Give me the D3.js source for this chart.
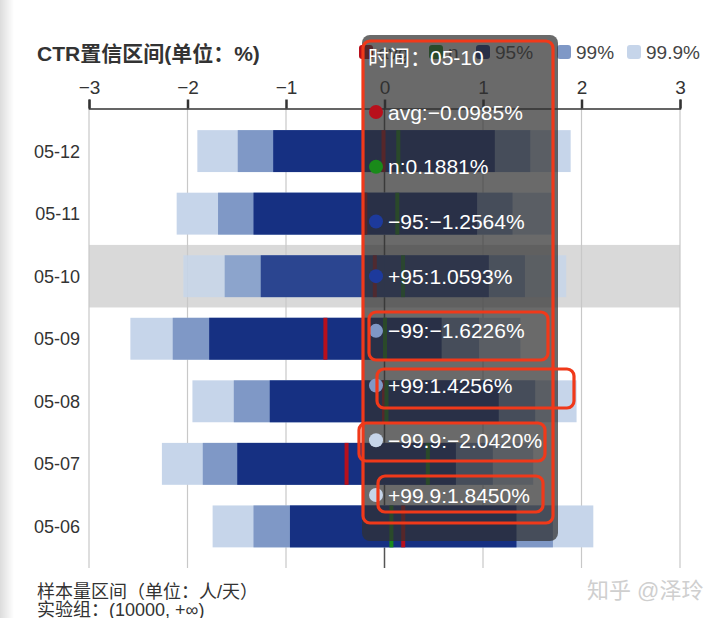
<!DOCTYPE html>
<html><head><meta charset="utf-8">
<script src="https://cdn.jsdelivr.net/npm/d3@7"></script>
<style>
html,body{margin:0;padding:0;background:#fff;}
svg{display:block;font-family:"Liberation Sans","Noto Sans CJK SC",sans-serif;}
</style></head>
<body><svg id="c" width="720" height="618"></svg>
<script>
const dates = ["05-12","05-11","05-10","05-09","05-08","05-07","05-06"];
const avg   = [-0.01,-0.195,-0.0985,-0.60,-0.005,-0.385,0.19];
const nVal  = [0.14,0.13,0.1881,0.005,0.02,0.44,0.07];
const lo95  = [-1.13,-1.33,-1.2564,-1.78,-1.165,-1.495,-0.96];
const hi95  = [1.12,0.94,1.0593,0.58,1.16,0.725,1.34];
const lo99  = [-1.49,-1.69,-1.6226,-2.15,-1.53,-1.845,-1.33];
const hi99  = [1.48,1.30,1.4256,0.96,1.53,1.10,1.71];
const lo999 = [-1.90,-2.11,-2.0420,-2.58,-1.95,-2.26,-1.745];
const hi999 = [1.89,1.72,1.8450,1.38,1.95,1.51,2.12];
const xTicks = [-3,-2,-1,0,1,2,3];
const legendLabels = ["avg","n","95%","99%","99.9%"];
const hoverDate = "05-10";

const C = {avg:"#b8101c", n:"#1a8a1a", c95:"#163082", c99:"#7f98c6", c999:"#c6d5ea"};
const legendColors = [C.avg, C.n, C.c95, C.c99, C.c999];

const svg = d3.select("#c");
const defs = svg.append("defs");
const g0 = defs.append("linearGradient").attr("id","edge");
g0.append("stop").attr("offset","0").attr("stop-color","#dcdcdc");
g0.append("stop").attr("offset","1").attr("stop-color","#ffffff");
svg.append("rect").attr("x",0).attr("y",0).attr("width",14).attr("height",618).attr("fill","url(#edge)");

const x = d3.scaleLinear().domain([-3,3]).range([89,680]);
const y = d3.scaleBand().domain(dates).range([109.5,568]).padding(0.33);

const hi = dates.indexOf(hoverDate);
svg.append("rect").attr("x",x(-3)).attr("width",x(3)-x(-3))
  .attr("y",y(hoverDate)-y.step()*y.padding()/2).attr("height",y.step())
  .attr("fill","#d9d9d9");

svg.append("g").selectAll("line").data(xTicks).join("line")
  .attr("x1",d=>x(d)).attr("x2",d=>x(d)).attr("y1",108).attr("y2",568)
  .attr("stroke",d=>d===0?"#555":"#c8c8c8").attr("stroke-width",d=>d===0?1.5:1.2);

const ax = svg.append("g").attr("transform","translate(0,108.5)")
  .call(d3.axisTop(x).tickValues(xTicks).tickFormat(d3.format("d")).tickSize(9).tickPadding(6));
ax.select(".domain").attr("stroke","#333").attr("stroke-width",1.5);
ax.selectAll(".tick line").attr("stroke","#333").attr("stroke-width",2.5);
ax.selectAll("text").attr("font-size",19).attr("fill","#333")
  .attr("font-family","Liberation Sans, sans-serif");

const rows = dates.map((d,i)=>({d,i}));
const layers = [[lo999,hi999,C.c999],[lo99,hi99,C.c99],[lo95,hi95,C.c95]];
const bg = svg.append("g");
layers.forEach(([lo,hiA,col])=>{
  bg.selectAll(null).data(rows).join("rect")
    .attr("x",r=>x(lo[r.i])).attr("width",r=>x(hiA[r.i])-x(lo[r.i]))
    .attr("y",r=>y(r.d)).attr("height",y.bandwidth())
    .attr("fill",col).attr("opacity",r=>r.i===hi?0.82:1);
});
bg.selectAll(null).data(rows).join("rect")
  .attr("x",r=>x(avg[r.i])-2).attr("width",4)
  .attr("y",r=>y(r.d)).attr("height",y.bandwidth()).attr("fill",C.avg)
  .attr("opacity",r=>r.i===hi?0.82:1);
bg.selectAll(null).data(rows).join("rect")
  .attr("x",r=>x(nVal[r.i])-2).attr("width",4)
  .attr("y",r=>y(r.d)).attr("height",y.bandwidth()).attr("fill",C.n)
  .attr("opacity",r=>r.i===hi?0.82:1);

svg.append("g").selectAll("text").data(dates).join("text")
  .attr("x",80).attr("y",d=>y(d)+y.bandwidth()/2).attr("dy","0.36em")
  .attr("text-anchor","end").attr("font-size",18).attr("fill","#333").text(d=>d);

svg.append("text").attr("x",37).attr("y",61).attr("font-size",21).attr("font-weight","bold")
  .attr("fill","#333").text("CTR置信区间(单位：%)");

const lg = svg.append("g");
const legendX = [359, 429, 476, 557, 627];
legendLabels.forEach((t,i)=>{
  lg.append("rect").attr("x",legendX[i]).attr("y",45).attr("width",14).attr("height",14).attr("rx",3)
    .attr("fill",legendColors[i]);
  lg.append("text").attr("x",legendX[i]+19).attr("y",59).attr("font-size",19).attr("fill","#444").text(t);
});

svg.append("text").attr("x",37).attr("y",598).attr("font-size",18).attr("fill","#333")
  .text("样本量区间（单位：人/天）");
svg.append("text").attr("x",37).attr("y",616).attr("font-size",18).attr("fill","#333")
  .text("实验组：(10000, +∞)");
svg.append("text").attr("x",587).attr("y",598).attr("font-size",22).attr("fill","#cfcfcf")
  .text("知乎 @泽玲");

const tt = svg.append("g");
tt.append("rect").attr("x",362).attr("y",35).attr("width",196).attr("height",506).attr("rx",8)
  .attr("fill","rgba(48,48,48,0.72)");
tt.append("text").attr("x",368).attr("y",65).attr("font-size",21).attr("fill","#fff")
  .text("时间：");
tt.append("text").attr("x",430).attr("y",65).attr("font-size",21).attr("fill","#fff")
  .text(hoverDate);
const fmt = v => (v<0?"\u2212":"") + Math.abs(v).toFixed(4) + "%";
const items = [
  ["avg", avg[hi], C.avg],
  ["n", nVal[hi], C.n],
  ["\u221295", lo95[hi], "#1d3a9c"],
  ["+95", hi95[hi], "#1d3a9c"],
  ["\u221299", lo99[hi], C.c99],
  ["+99", hi99[hi], C.c99],
  ["\u221299.9", lo999[hi], C.c999],
  ["+99.9", hi999[hi], C.c999]
];
const rowY = d3.scalePoint().domain(d3.range(items.length)).range([112,495]);
items.forEach(([k,v,col],i)=>{
  tt.append("circle").attr("cx",376).attr("cy",rowY(i)).attr("r",7).attr("fill",col);
  tt.append("text").attr("x",388).attr("y",rowY(i)).attr("dy","0.36em").attr("font-size",21)
    .attr("fill","#fff").text(k+":"+fmt(v));
});

const ann = svg.append("g").attr("fill","none").attr("stroke","#f0391a").attr("stroke-width",3.2);
[[363,41,190,482],[369,312,179,48],[377,369,197,39],[359,423,186,38],[378,476,165,36]]
  .forEach(([ax0,ay,w,h])=>ann.append("rect").attr("x",ax0).attr("y",ay).attr("width",w).attr("height",h).attr("rx",7));
</script></body></html>
